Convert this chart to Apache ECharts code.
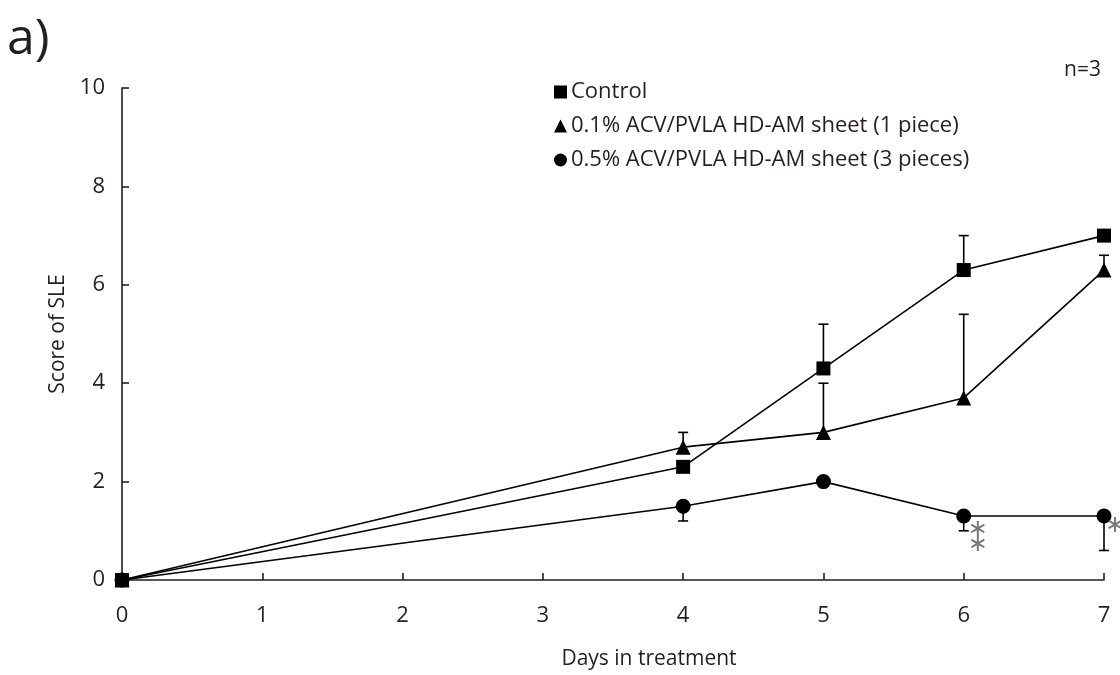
<!DOCTYPE html>
<html>
<head>
<meta charset="utf-8">
<script src="https://cdn.jsdelivr.net/npm/echarts@6/dist/echarts.min.js"></script>
<style>html,body{margin:0;padding:0;background:#fff}#c{width:1120px;height:675px}</style>
</head>
<body>
<div id="c"></div>
<script>
var days = [0, 4, 5, 6, 7];
var xTicks = [0, 1, 2, 3, 4, 5, 6, 7];
var yTicks = [0, 2, 4, 6, 8, 10];
var seriesNames = ['Control', '0.1% ACV/PVLA HD-AM sheet (1 piece)', '0.5% ACV/PVLA HD-AM sheet (3 pieces)'];
var controlVals = [0, 2.3, 4.3, 6.3, 7.0];
var acv01Vals = [0, 2.7, 3.0, 3.7, 6.3];
var acv05Vals = [0, 1.5, 2.0, 1.3, 1.3];
// error bar ends (null = none drawn)
var controlErr = [null, null, 5.2, 7.0, null];
var acv01Err = [null, 3.0, 4.0, 5.4, 6.6];
var acv05Err = [null, 1.2, null, 1.0, 0.6];
// significance marks: day, value, text
var sigMarks = [[6, 1.3, '∗\n∗'], [7, 1.3, '∗']];

var FONT = '"Open Sans", "Noto Sans", sans-serif';
var TXT = '#231f20';

function pairs(vals) { return days.map(function (d, i) { return [d, vals[i]]; }); }
function errData(vals, err) {
  var out = [];
  days.forEach(function (d, i) { if (err[i] !== null) out.push([d, vals[i], err[i]]); });
  return out;
}
function errSeries(vals, err) {
  return {
    type: 'custom',
    silent: true,
    z: 1,
    data: errData(vals, err),
    renderItem: function (params, api) {
      var p0 = api.coord([api.value(0), api.value(1)]);
      var p1 = api.coord([api.value(0), api.value(2)]);
      var hw = 5;
      return {
        type: 'group',
        children: [
          { type: 'line', shape: { x1: p0[0], y1: p0[1], x2: p1[0], y2: p1[1] }, style: { stroke: '#000', lineWidth: 1.6 } },
          { type: 'line', shape: { x1: p1[0] - hw, y1: p1[1], x2: p1[0] + hw, y2: p1[1] }, style: { stroke: '#000', lineWidth: 1.6 } }
        ]
      };
    }
  };
}
function lineSeries(name, vals, symbol, size) {
  return {
    name: name, type: 'line', data: pairs(vals), symbol: symbol, symbolSize: size,
    showAllSymbol: true, z: 3,
    lineStyle: { color: '#000', width: 1.6 }, itemStyle: { color: '#000', borderWidth: 0 },
    emphasis: { disabled: true }
  };
}

var chart = echarts.init(document.getElementById('c'), null, { renderer: 'canvas' });
chart.setOption({
  animation: false,
  backgroundColor: '#fff',
  textStyle: { fontFamily: FONT, color: TXT },
  grid: { left: 122, right: 16, top: 88, bottom: 93, containLabel: false },
  graphic: [
    { type: 'text', left: 7, top: 15, style: { text: 'a)', font: '50px ' + FONT, fill: TXT } },
    { type: 'text', right: 19, top: 60, style: { text: 'n=3', font: '21px ' + FONT, fill: TXT } }
  ],
  legend: {
    data: [
      { name: seriesNames[0], icon: 'rect' },
      { name: seriesNames[1], icon: 'triangle' },
      { name: seriesNames[2], icon: 'circle' }
    ],
    orient: 'vertical', left: 549, top: 76, itemWidth: 13, itemHeight: 13, itemGap: 12,
    selectedMode: false,
    textStyle: { fontFamily: FONT, fontSize: 22, color: TXT, padding: [0, 0, 0, -1] },
    itemStyle: { color: '#000' }
  },
  xAxis: {
    type: 'value', min: 0, max: 7, interval: 1,
    name: 'Days in treatment', nameLocation: 'middle', nameGap: 69,
    nameTextStyle: { fontFamily: FONT, fontSize: 21, color: TXT, padding: [0, 0, 0, 72] },
    axisLine: { show: true, lineStyle: { color: TXT, width: 1.6 } },
    axisTick: { show: true, inside: true, length: 7, lineStyle: { color: TXT, width: 1.6 } },
    axisLabel: { fontFamily: FONT, fontSize: 22, color: TXT, margin: 25,
      formatter: function (v) { return xTicks.indexOf(v) >= 0 ? String(v) : ''; } },
    splitLine: { show: false }
  },
  yAxis: {
    type: 'value', min: 0, max: 10, interval: 2,
    name: 'Score of SLE', nameLocation: 'middle', nameGap: 50, nameRotate: 90,
    nameTextStyle: { fontFamily: FONT, fontSize: 21, color: TXT },
    axisLine: { show: true, lineStyle: { color: TXT, width: 1.6 } },
    axisTick: { show: true, inside: true, length: 7, lineStyle: { color: TXT, width: 1.6 } },
    axisLabel: { fontFamily: FONT, fontSize: 22, color: TXT, margin: 17,
      formatter: function (v) { return yTicks.indexOf(v) >= 0 ? String(v) : ''; } },
    splitLine: { show: false }
  },
  series: [
    errSeries(controlVals, controlErr),
    errSeries(acv01Vals, acv01Err),
    errSeries(acv05Vals, acv05Err),
    lineSeries(seriesNames[0], controlVals, 'rect', 14),
    lineSeries(seriesNames[1], acv01Vals, 'triangle', 15),
    lineSeries(seriesNames[2], acv05Vals, 'circle', 15),
    {
      type: 'scatter', silent: true, symbolSize: 0, z: 4,
      data: sigMarks.map(function (m, i) {
        return { value: [m[0], m[1]], label: { formatter: m[2], position: i === 0 ? [14, 21] : [11, 10] } };
      }),
      label: { show: true, align: 'center', verticalAlign: 'middle', fontFamily: 'DejaVu Sans', fontSize: 24, lineHeight: 15, color: '#555' }
    }
  ]
});
</script>
</body>
</html>
